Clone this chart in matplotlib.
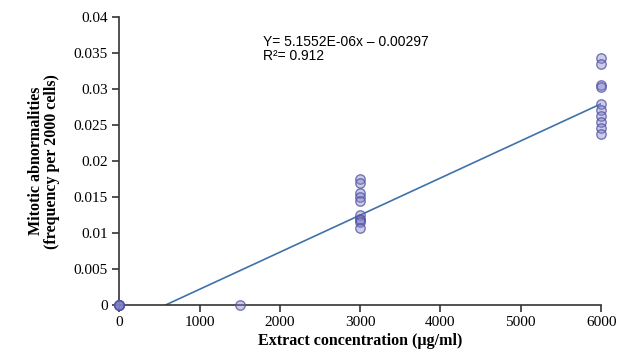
import matplotlib as mpl
mpl.use('Agg')

import numpy as np
import matplotlib.pyplot as plt

# data
conc_0 = [0, 0, 0, 0, 0]
abn_0 = [0, 0, 0, 0, 0]
conc_1500 = [1500]
abn_1500 = [0]
conc_3000 = [3000, 3000, 3000, 3000, 3000, 3000, 3000, 3000, 3000, 3000]
abn_3000 = [0.0175, 0.017, 0.0155, 0.015, 0.0145, 0.0125, 0.012, 0.0118, 0.0115, 0.0107]
conc_6000 = [6000, 6000, 6000, 6000, 6000, 6000, 6000, 6000, 6000, 6000]
abn_6000 = [0.0343, 0.0335, 0.0305, 0.0303, 0.0279, 0.0271, 0.0262, 0.0254, 0.0246, 0.0238]

slope = 5.1552e-06
intercept = -0.00297
r2 = 0.912

xticks = [0, 1000, 2000, 3000, 4000, 5000, 6000]
yticks = [0, 0.005, 0.01, 0.015, 0.02, 0.025, 0.03, 0.035, 0.04]
ytick_labels = ['0', '0.005', '0.01', '0.015', '0.02', '0.025', '0.03', '0.035', '0.04']

serif = ['Liberation Serif', 'DejaVu Serif']
sans = ['Liberation Sans', 'DejaVu Sans']

fig = plt.figure(figsize=(6.21, 3.64), dpi=100)
ax = fig.add_axes([0.192, 0.162, 0.776, 0.791])

xs = np.concatenate([conc_0, conc_1500, conc_3000, conc_6000])
ys = np.concatenate([abn_0, abn_1500, abn_3000, abn_6000])

# trend line, only where it is above zero
x0 = -intercept / slope
xl = np.array([x0, 6000])
ax.plot(xl, slope * xl + intercept, color='#3f72a8', lw=1.2, zorder=2)

ax.scatter(xs, ys, s=46, facecolor=(0.50, 0.50, 0.80, 0.40),
           edgecolor=(0.32, 0.32, 0.62, 0.75), linewidth=1.0, zorder=3, clip_on=False)

ax.set_xlim(0, 6000)
ax.set_ylim(0, 0.04)
ax.set_xticks(xticks)
ax.set_yticks(yticks)
ax.set_yticklabels(ytick_labels)

for s in ['top', 'right']:
    ax.spines[s].set_visible(False)
for s in ['left', 'bottom']:
    ax.spines[s].set_linewidth(1.2)
    ax.spines[s].set_color('#333333')

ax.tick_params(direction='out', length=5, width=1.2, color='#333333',
               labelsize=11, pad=3)
for lab in ax.get_xticklabels() + ax.get_yticklabels():
    lab.set_family(serif)

ax.set_xlabel('Extract concentration (µg/ml)', family=serif, fontsize=11.5,
              fontweight='bold', labelpad=3)
ax.set_ylabel('Mitotic abnormalities\n(frequency per 2000 cells)', family=serif,
              fontsize=11.5, fontweight='bold', labelpad=10, linespacing=1.0)

ax.text(1790, 0.0375, 'Y= %.4fE-06x \u2013 %.5f\nR\u00b2= %.3f' % (slope * 1e6, -intercept, r2),
        family=sans, fontsize=10, va='top', ha='left', linespacing=1.0)

plt.savefig('out.png', dpi=100)
